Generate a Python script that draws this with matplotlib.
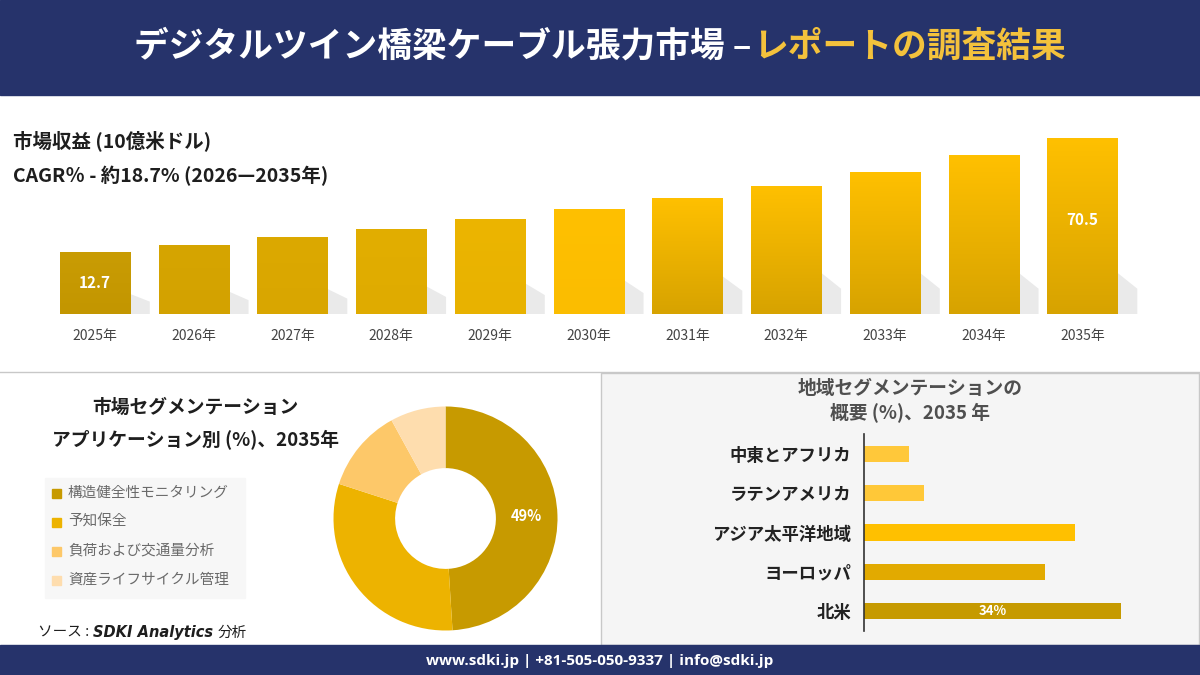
import matplotlib
matplotlib.use("Agg")
import matplotlib.pyplot as plt
from matplotlib.patches import Rectangle, Polygon
import numpy as np

plt.rcParams['font.family'] = ['Noto Sans CJK JP', 'DejaVu Sans']

# data
years = ['2025年', '2026年', '2027年', '2028年', '2029年', '2030年',
         '2031年', '2032年', '2033年', '2034年', '2035年']
revenue = [12.7, 16.4, 20.3, 24.5, 29.2, 34.3, 40.1, 46.2, 53.3, 61.6, 70.5]
shown_values = {0: '12.7', 10: '70.5'}

seg_labels = ['構造健全性モニタリング', '予知保全', '負荷および交通量分析', '資産ライフサイクル管理']
seg_shares = [49, 31, 12, 8]
seg_colors = ['#C79A00', '#EDB300', '#FDC869', '#FEDDAE']

region_labels = ['北米', 'ヨーロッパ', 'アジア太平洋地域', 'ラテンアメリカ', '中東とアフリカ']
region_shares = [34, 24, 28, 8, 6]
region_colors = ['#C69A00', '#E2AA00', '#FFC000', '#FFC838', '#FFC83A']

bar_top = ['#C99C04', '#D6A500', '#DCA900', '#E2AE00', '#ECB500', '#FFC000',
           '#FFC000', '#FFC000', '#FFC000', '#FFC000', '#FFC000']
bar_bot = ['#C39600', '#D3A200', '#D9A600', '#DFAB00', '#E8B200', '#FBBD00',
           '#D7A300', '#D7A300', '#D7A300', '#D7A300', '#D7A300']

NAVY = '#26336B'
W, H = 1200, 675

fig = plt.figure(figsize=(12, 6.75), dpi=100)
fig.patch.set_facecolor('white')


def px_axes(x0, y0, x1, y1):
    return fig.add_axes([x0 / W, 1 - y1 / H, (x1 - x0) / W, (y1 - y0) / H])


# background / frame
bg = fig.add_axes([0, 0, 1, 1])
bg.set_xlim(0, W)
bg.set_ylim(H, 0)
bg.axis('off')
bg.set_zorder(-5)
bg.add_patch(Rectangle((0, 0), W, 95, color=NAVY))
bg.add_patch(Rectangle((601, 373), 598, 272, facecolor='#F5F5F5', edgecolor='#C8C8C8', lw=1))
bg.plot([0, W], [372, 372], color='#C8C8C8', lw=1)
bg.add_patch(Rectangle((0, 645), W, 30, color=NAVY))

bg.text(752, 46, 'デジタルツイン橋梁ケーブル張力市場 –', color='white', fontsize=25,
        fontweight='bold', ha='right', va='center')
bg.text(753, 46, 'レポートの調査結果', color='#F4C23C', fontsize=25,
        fontweight='bold', ha='left', va='center')

bg.text(13, 141, '市場収益 (10億米ドル)', fontsize=14, fontweight='bold', color='#1E1E1E', va='center')
bg.text(13, 176, 'CAGR％ - 約18.7% (2026—2035年)', fontsize=14, fontweight='bold', color='#1E1E1E',
        va='center')

bg.text(195, 407, '市場セグメンテーション', fontsize=13.5, fontweight='bold', color='#1E1E1E',
        ha='center', va='center')
bg.text(195, 440, 'アプリケーション別 (%)、2035年', fontsize=13.5, fontweight='bold', color='#1E1E1E',
        ha='center', va='center')

bg.add_patch(Rectangle((45, 478), 200, 120, color='#F7F7F7'))
for i, (lab, col) in enumerate(zip(seg_labels, seg_colors)):
    yy = 493 + i * 29
    bg.add_patch(Rectangle((52, yy - 4.5), 9, 9, color=col))
    bg.text(68, yy, lab, fontsize=10.5, color='#6A6A6A', va='center')

src1 = bg.text(38, 633, 'ソース :', fontsize=10.5, color='#1E1E1E', va='center')
src2 = bg.annotate('SDKI Analytics', xy=(1, 0.5), xycoords=src1, xytext=(3, 0),
                   textcoords='offset points', va='center', ha='left',
                   fontsize=10.5, style='italic', fontweight='bold', color='#1E1E1E',
                   family=['DejaVu Sans'])
bg.annotate('分析', xy=(1, 0.5), xycoords=src2, xytext=(3, 0), textcoords='offset points',
            va='center', ha='left', fontsize=10.5, color='#1E1E1E')

bg.text(910, 388, '地域セグメンテーションの', fontsize=13.5, fontweight='bold', color='#4F4F4F',
        ha='center', va='center')
bg.text(910, 413, '概要 (%)、2035 年', fontsize=13.5, fontweight='bold', color='#4F4F4F',
        ha='center', va='center')

bg.text(600, 661, 'www.sdki.jp | +81-505-050-9337 | info@sdki.jp', fontsize=11, fontweight='bold',
        color='white', ha='center', va='center', family=['Open Sans', 'DejaVu Sans'])

# market revenue bars
base = -18.6
ax = px_axes(35.75, 120, 1141.75, 314)
ax.axis('off')
bw = 0.71
x = np.arange(len(years))
for i, v in enumerate(revenue):
    xl = x[i] - bw / 2
    xr = x[i] + bw / 2
    hs = min(0.25 * (v - base), 16)
    ax.add_patch(Polygon([(xr, base), (xr + 0.2, base), (xr + 0.2, base + hs * 0.8),
                          (xr, base + hs * 1.3)], closed=True, facecolor='#DCDCDC',
                         edgecolor='none', alpha=0.6, zorder=1))
    rect = Rectangle((xl, base), bw, v - base, facecolor='none', edgecolor='none', zorder=2)
    ax.add_patch(rect)
    c1 = np.array(matplotlib.colors.to_rgb(bar_top[i]))
    c2 = np.array(matplotlib.colors.to_rgb(bar_bot[i]))
    t = np.linspace(0, 1, 64)[:, None]
    grad = (c1 * (1 - t) + c2 * t)[:, None, :]
    im = ax.imshow(grad, extent=(xl, xr, base, v), aspect='auto', origin='upper', zorder=2)
    im.set_clip_path(rect)
    ax.text(x[i], base - 11.2, years[i], ha='center', va='center', fontsize=10, color='#444444',
            clip_on=False)
    if i in shown_values:
        ax.text(x[i], (base + v) / 2 + (3 if i == 10 else 0), shown_values[i], ha='center',
                va='center', fontsize=11, fontweight='bold', color='white', zorder=3)
ax.set_xlim(-0.6, 10.6)
ax.set_ylim(base, 79.5)

# application donut
axd = px_axes(445.5 - 123.2, 518.5 - 123.2, 445.5 + 123.2, 518.5 + 123.2)
wedges, _ = axd.pie(seg_shares, colors=seg_colors, startangle=90, counterclock=False,
                    radius=1, wedgeprops=dict(width=0.55, edgecolor='none'))
axd.set_xlim(-1.1, 1.1)
axd.set_ylim(-1.1, 1.1)
axd.set_aspect('equal')
ang = np.deg2rad(90 - seg_shares[0] / 100 * 360 / 2)
axd.text(0.72 * np.cos(ang), 0.72 * np.sin(ang), f'{seg_shares[0]}%', ha='center', va='center',
         fontsize=10.5, fontweight='bold', color='white')

# regional bars
axh = px_axes(864, 434.4, 1166, 630.6)
yy = np.arange(len(region_labels))
axh.barh(yy, region_shares, height=0.41, color=region_colors)
axh.set_xlim(0, 40)
axh.set_ylim(-0.5, 4.5)
axh.set_facecolor('none')
for s in ['top', 'right', 'bottom']:
    axh.spines[s].set_visible(False)
axh.spines['left'].set_color('#333333')
axh.spines['left'].set_linewidth(1.2)
axh.set_xticks([])
axh.set_yticks(yy)
axh.set_yticklabels(region_labels, fontsize=12.5, fontweight='bold', color='#222222')
axh.tick_params(axis='y', length=0, pad=9)
axh.text(region_shares[0] / 2, 0, f'{region_shares[0]}%', ha='center', va='center',
         fontsize=9.5, fontweight='bold', color='white')

fig.savefig('out.png', dpi=100, facecolor='white')
